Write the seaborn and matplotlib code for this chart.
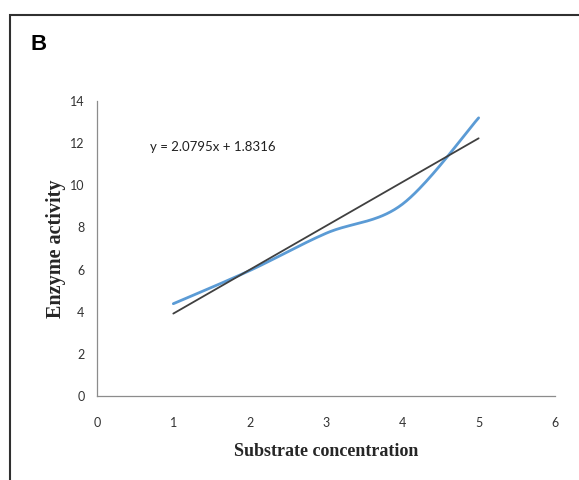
import numpy as np
import pandas as pd
import seaborn as sns
import matplotlib.pyplot as plt
from matplotlib.patches import Rectangle

# ---------------------------------------------
# data
# ---------------------------------------------
substrate = [1, 2, 3, 4, 5]
activity = [4.38, 5.95, 7.72, 9.10, 13.20]
slope = 2.0795
intercept = 1.8316
x_ticks = [0, 1, 2, 3, 4, 5, 6]
y_ticks = [0, 2, 4, 6, 8, 10, 12, 14]

# ---------------------------------------------
# Excel style smoothed line (Catmull-Rom / bezier)
# ---------------------------------------------
def smooth_line(xs, ys, n=40):
    pts = np.column_stack([xs, ys]).astype(float)
    out = []
    for i in range(len(pts) - 1):
        p0 = pts[i - 1] if i > 0 else pts[i]
        p1 = pts[i]
        p2 = pts[i + 1]
        p3 = pts[i + 2] if i + 2 < len(pts) else pts[i + 1]
        c1 = p1 + (p2 - p0) / 6
        c2 = p2 - (p3 - p1) / 6
        t = np.linspace(0, 1, n)[:, None]
        seg = ((1 - t) ** 3) * p1 + 3 * ((1 - t) ** 2) * t * c1 + 3 * (1 - t) * t ** 2 * c2 + t ** 3 * p2
        out.append(seg if i == 0 else seg[1:])
    seg = np.vstack(out)
    return pd.DataFrame({'x': seg[:, 0], 'y': seg[:, 1]})

curve_df = smooth_line(substrate, activity)
trend_df = pd.DataFrame({'x': [substrate[0], substrate[-1]]})
trend_df['y'] = slope * trend_df['x'] + intercept

sns.set_style('white')
fig = plt.figure(figsize=(5.79, 4.8), dpi=100)
ax = fig.add_axes([0.1675, 0.175, 0.791, 0.6146])

sns.lineplot(data=curve_df, x='x', y='y', sort=False, color='#5B9BD5', linewidth=2, ax=ax)
sns.lineplot(data=trend_df, x='x', y='y', color='#404040', linewidth=1.3, ax=ax)

ax.set_xlim(0, 6)
ax.set_ylim(0, 14)
ax.set_xticks(x_ticks)
ax.set_yticks(y_ticks)
ax.tick_params(axis='both', direction='out', length=3, width=0.8, color='#8c8c8c',
               labelsize=9, labelcolor='#333333')
ax.tick_params(axis='y', pad=6)
ax.tick_params(axis='x', pad=12)
for lbl in ax.get_xticklabels() + ax.get_yticklabels():
    lbl.set_family('Lato')

for side in ['top', 'right']:
    ax.spines[side].set_visible(False)
for side in ['left', 'bottom']:
    ax.spines[side].set_color('#8c8c8c')
    ax.spines[side].set_linewidth(0.9)

ax.set_xlabel('Substrate concentration', fontfamily='Liberation Serif', fontweight='bold',
              fontsize=13, labelpad=10)
ax.set_ylabel('Enzyme activity', fontfamily='Liberation Serif', fontweight='bold',
              fontsize=14.5, labelpad=3)

ax.text(0.69, 11.8, 'y = 2.0795x + 1.8316', fontfamily='Lato', fontsize=9.5,
        color='#202020', va='center')

# panel letter and the frame round the panel
fig.text(0.052, 0.895, 'B', fontfamily='Liberation Sans', fontweight='bold', fontsize=16,
         color='black')
fig.add_artist(Rectangle((10 / 579, -0.05), 1.2, 1 - 15 / 480 + 0.05, transform=fig.transFigure,
                         fill=False, edgecolor='#303030', linewidth=1.5))

fig.savefig('out.png', dpi=100)
